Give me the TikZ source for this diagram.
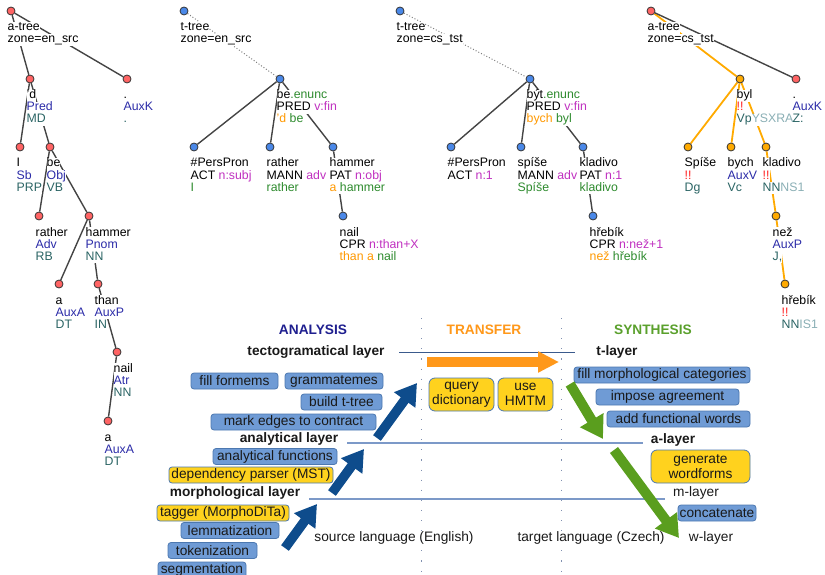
\documentclass[tikz,border=0pt]{standalone}
\usepackage{fontspec}
\setmainfont{Liberation Sans}
\usetikzlibrary{arrows.meta}
\pgfdeclarelayer{bg}
\pgfsetlayers{bg,main}
\definecolor{afun}{HTML}{2B2BA8}
\definecolor{tagc}{HTML}{2A6464}
\definecolor{tagl}{HTML}{8AAFB5}
\definecolor{tgreen}{HTML}{2E8B2E}
\definecolor{tmag}{HTML}{C030C0}
\definecolor{torange}{HTML}{FF9900}
\definecolor{bang}{HTML}{FF2020}
\definecolor{reddot}{HTML}{FF6464}
\definecolor{bluedot}{HTML}{4A88E8}
\definecolor{orgdot}{HTML}{FFAA00}
\definecolor{edgec}{HTML}{444444}
\definecolor{boxblue}{HTML}{6F9BD5}
\definecolor{boxborder}{HTML}{4C78B0}
\definecolor{boxyellow}{HTML}{FFD21E}
\definecolor{arrblue}{HTML}{0E4C8C}
\definecolor{arrorange}{HTML}{FF981A}
\definecolor{arrgreen}{HTML}{5A9E1E}
\definecolor{hdblue}{HTML}{1F1F8F}
\definecolor{hdgreen}{HTML}{5AA02C}
\definecolor{layline}{HTML}{7C99C8}
\definecolor{tline}{HTML}{3A5A8C}
\definecolor{vdotc}{HTML}{8090B0}
\newcommand\tfnt{\fontsize{12.3}{12.3}\selectfont}
\newcommand\bfnt{\fontsize{13.7}{14.5}\selectfont}
\newcommand\colA[1]{\textcolor{afun}{#1}}
\newcommand\colT[1]{\textcolor{tagc}{#1}}
\newcommand\colL[1]{\textcolor{tagl}{#1}}
\newcommand\colG[1]{\textcolor{tgreen}{#1}}
\newcommand\colM[1]{\textcolor{tmag}{#1}}
\newcommand\colO[1]{\textcolor{torange}{#1}}
\newcommand\colR[1]{\textcolor{bang}{#1}}
\newcommand\mklab[4]{%
  \node[lab] (#1-1) at ([xshift=-3.5pt,yshift=-17pt]#1.center) {#2};
  \node[lab] (#1-2) at ([xshift=-3.5pt,yshift=-29pt]#1.center) {#3};
  \node[lab] (#1-3) at ([xshift=-3.5pt,yshift=-41pt]#1.center) {#4};}
\begin{document}
\begin{tikzpicture}[x=1pt,y=-1pt,
  dot/.style={circle, inner sep=0, minimum size=8pt, draw=black!80, line width=0.8pt},
  adot/.style={dot, fill=reddot},
  tdot/.style={dot, fill=bluedot},
  odot/.style={dot, fill=orgdot},
  edge/.style={draw=edgec, line width=1.4pt},
  oedge/.style={draw=orgdot, line width=1.8pt},
  dedge/.style={draw=gray, line width=1pt, dash pattern=on 1pt off 2pt},
  lab/.style={anchor=west, inner sep=0, fill=white, font=\tfnt, text height=9pt, text depth=3pt},
  bbox/.style={rounded corners=3pt, draw=boxborder, fill=boxblue, line width=0.8pt, inner sep=0, font=\bfnt, text=black!90, minimum height=16pt},
  ybox/.style={bbox, fill=boxyellow},
  tbox/.style={ybox, rounded corners=6pt, minimum height=33pt, align=center},
  hdr/.style={font=\bfnt\bfseries, inner sep=0},
  layb/.style={font=\bfnt\bfseries, inner sep=0, text=black!90},
  layr/.style={font=\bfnt, inner sep=0, text=black!90},
  vdot/.style={draw=vdotc, line width=1.1pt, dash pattern=on 1.1pt off 9pt},
  tl/.style={draw=tline, line width=1pt},
  al/.style={draw=layline, line width=1.4pt},
  barr/.style={draw=arrblue, line width=9.5pt, -{Triangle[width=25pt,length=21pt]}},
  garr/.style={draw=arrgreen, line width=10pt, -{Triangle[width=26pt,length=22pt]}},
  oarr/.style={draw=arrorange, line width=10pt, -{Triangle[width=20pt,length=21pt]}}
]
\useasboundingbox (0,0) rectangle (825,575);

% ---------- en a-tree ----------
\node[adot] (ar) at (11,11) {};
\node[adot] (ad) at (30,79) {};
\node[adot] (aK) at (127,79) {};
\node[adot] (aI) at (20,147) {};
\node[adot] (abe) at (50,147) {};
\node[adot] (ara) at (39,216) {};
\node[adot] (aha) at (89,216) {};
\node[adot] (aa1) at (59,284) {};
\node[adot] (ath) at (98,284) {};
\node[adot] (ana) at (117,352) {};
\node[adot] (aa2) at (108,421) {};

% ---------- en t-tree ----------
\node[tdot] (tr) at (184,11) {};
\node[tdot] (tbe) at (280,79) {};
\node[tdot] (tpp) at (194,147) {};
\node[tdot] (tra) at (270,147) {};
\node[tdot] (tha) at (333,147) {};
\node[tdot] (tna) at (343,216) {};

% ---------- cs t-tree ----------
\node[tdot] (sr) at (400,11) {};
\node[tdot] (sby) at (530,79) {};
\node[tdot] (spp) at (451,147) {};
\node[tdot] (ssp) at (521,147) {};
\node[tdot] (skl) at (583,147) {};
\node[tdot] (shr) at (593,216) {};

% ---------- cs a-tree ----------
\node[adot] (cr) at (651,11) {};
\node[odot] (cby) at (740,79) {};
\node[adot] (cK) at (796,79) {};
\node[odot] (csp) at (688,147) {};
\node[odot] (cbych) at (731,147) {};
\node[odot] (ckl) at (766,147) {};
\node[odot] (cne) at (776,216) {};
\node[odot] (chr) at (785,284) {};

\begin{pgfonlayer}{bg}
\draw[edge] (ar) -- (ad);
\draw[edge] (ar) -- (aK);
\draw[edge] (ad) -- (aI);
\draw[edge] (ad) -- (abe);
\draw[edge] (abe) -- (ara);
\draw[edge] (abe) -- (aha);
\draw[edge] (aha) -- (aa1);
\draw[edge] (aha) -- (ath);
\draw[edge] (ath) -- (ana);
\draw[edge] (ana) -- (aa2);

\draw[dedge] (tr) -- (tbe);
\draw[edge] (tbe) -- (tpp);
\draw[edge] (tbe) -- (tra);
\draw[edge] (tbe) -- (tha);
\draw[edge] (tha) -- (tna);

\draw[dedge] (sr) -- (sby);
\draw[edge] (sby) -- (spp);
\draw[edge] (sby) -- (ssp);
\draw[edge] (sby) -- (skl);
\draw[edge] (skl) -- (shr);

\draw[oedge] (cr) -- (cby);
\draw[edge] (cr) -- (cK);
\draw[oedge] (cby) -- (csp);
\draw[oedge] (cby) -- (cbych);
\draw[oedge] (cby) -- (ckl);
\draw[oedge] (ckl) -- (cne);
\draw[oedge] (cne) -- (chr);

\mklab{ar}{a-tree}{zone=en\_src}{}
\mklab{ad}{'d}{\colA{Pred}}{\colT{MD}}
\mklab{aK}{.}{\colA{AuxK}}{\colT{.}}
\mklab{aI}{I}{\colA{Sb}}{\colT{PRP}}
\mklab{abe}{be}{\colA{Obj}}{\colT{VB}}
\mklab{ara}{rather}{\colA{Adv}}{\colT{RB}}
\mklab{aha}{hammer}{\colA{Pnom}}{\colT{NN}}
\mklab{aa1}{a}{\colA{AuxA}}{\colT{DT}}
\mklab{ath}{than}{\colA{AuxP}}{\colT{IN}}
\mklab{ana}{nail}{\colA{Atr}}{\colT{NN}}
\mklab{aa2}{a}{\colA{AuxA}}{\colT{DT}}

\mklab{tr}{t-tree}{zone=en\_src}{}
\mklab{tbe}{be\colG{.enunc}}{PRED \colM{v:fin}}{\colO{'d} \colG{be}}
\mklab{tpp}{\#PersPron}{ACT \colM{n:subj}}{\colG{I}}
\mklab{tra}{rather}{MANN \colM{adv}}{\colG{rather}}
\mklab{tha}{hammer}{PAT \colM{n:obj}}{\colO{a} \colG{hammer}}
\mklab{tna}{nail}{CPR \colM{n:than+X}}{\colO{than a} \colG{nail}}

\mklab{sr}{t-tree}{zone=cs\_tst}{}
\mklab{sby}{být\colG{.enunc}}{PRED \colM{v:fin}}{\colO{bych} \colG{byl}}
\mklab{spp}{\#PersPron}{ACT \colM{n:1}}{}
\mklab{ssp}{spíše}{MANN \colM{adv}}{\colG{Spíše}}
\mklab{skl}{kladivo}{PAT \colM{n:1}}{\colG{kladivo}}
\mklab{shr}{hřebík}{CPR \colM{n:než+1}}{\colO{než} \colG{hřebík}}

\mklab{cr}{a-tree}{zone=cs\_tst}{}
\mklab{cby}{byl}{\colR{!!}}{\colT{Vp}\colL{YSXRA}}
\mklab{cK}{.}{\colA{AuxK}}{\colT{Z:}}
\mklab{csp}{Spíše}{\colR{!!}}{\colT{Dg}}
\mklab{cbych}{bych}{\colA{AuxV}}{\colT{Vc}}
\mklab{ckl}{kladivo}{\colR{!!}}{\colT{NN}\colL{NS1}}
\mklab{cne}{než}{\colA{AuxP}}{\colT{J,}}
\mklab{chr}{hřebík}{\colR{!!}}{\colT{NN}\colL{IS1}}
\end{pgfonlayer}

% ---------- bottom: pipeline ----------
\coordinate (v1t) at (421.5,318); \coordinate (v1b) at (421.5,575);
\coordinate (v2t) at (561.5,318); \coordinate (v2b) at (561.5,575);
\draw[vdot] (v1t) -- (v1b);
\draw[vdot] (v2t) -- (v2b);

\node[hdr, text=hdblue] (hA) at (313,330) {ANALYSIS};
\node[hdr, text=arrorange] (hT) at (484,330) {TRANSFER};
\node[hdr, text=hdgreen] (hS) at (653,330) {SYNTHESIS};

\node[layb] (Lt) at (316,352) {tectogramatical layer};
\node[layb] (La) at (289,439) {analytical layer};
\node[layb] (Lm) at (235,493) {morphological layer};
\node[layr] (Ls) at (394,538) {source language (English)};
\node[layr] (Lg) at (591,538) {target language (Czech)};
\node[layb] (Rt) at (617,352) {t-layer};
\node[layb] (Ra) at (673,440) {a-layer};
\node[layr] (Rm) at (696,493) {m-layer};
\node[layr] (Rw) at (711,538) {w-layer};

\coordinate (tls) at (399,352); \coordinate (tle) at (575,352);
\coordinate (als) at (347,443); \coordinate (ale) at (643,443);
\coordinate (mls) at (309,499); \coordinate (mle) at (665,499);
\draw[tl] (tls) -- (tle);
\draw[al] (als) -- (ale);
\draw[al] (mls) -- (mle);

\node[bbox, minimum width=87pt] (b1) at (234.5,381) {fill formems};
\node[bbox, minimum width=98pt] (b2) at (334,381) {grammatemes};
\node[bbox, minimum width=81pt] (b3) at (341.5,402) {build t-tree};
\node[bbox, minimum width=165pt] (b4) at (293.5,422) {mark edges to contract};
\node[bbox, minimum width=124pt] (b5) at (275,456.5) {analytical functions};
\node[ybox, minimum width=164pt] (b6) at (251,475) {dependency parser (MST)};
\node[ybox, minimum width=132pt] (b7) at (223,513) {tagger (MorphoDiTa)};
\node[bbox, minimum width=98pt] (b8) at (230,530.5) {lemmatization};
\node[bbox, minimum width=89pt] (b9) at (212.5,550.5) {tokenization};
\node[bbox, minimum width=88pt] (b10) at (202,570) {segmentation};

\node[tbox, minimum width=65pt] (q1) at (461.5,394.5) {query\\dictionary};
\node[tbox, minimum width=55pt] (q2) at (525.5,394.5) {use\\HMTM};

\node[bbox, minimum width=176pt] (s1) at (662,375) {fill morphological categories};
\node[bbox, minimum width=143pt] (s2) at (667.5,397) {impose agreement};
\node[bbox, minimum width=143pt] (s3) at (678.5,419) {add functional words};
\node[tbox, minimum width=99pt] (s4) at (700.5,466.5) {generate\\wordforms};
\node[bbox, minimum width=78pt] (s5) at (717,513) {concatenate};

% arrows
\coordinate (ba1s) at (285,548); \coordinate (ba1e) at (317,504);
\coordinate (ba2s) at (332,493); \coordinate (ba2e) at (364,449);
\coordinate (ba3s) at (377,438); \coordinate (ba3e) at (417,383);
\coordinate (oas) at (427,362); \coordinate (oae) at (559,362);
\coordinate (ga1s) at (570,384); \coordinate (ga1e) at (603,439);
\coordinate (ga2s) at (614,450); \coordinate (ga2e) at (679,538);
\draw[barr] (ba1s) -- (ba1e);
\draw[barr] (ba2s) -- (ba2e);
\draw[barr] (ba3s) -- (ba3e);
\draw[oarr] (oas) -- (oae);
\draw[garr] (ga1s) -- (ga1e);
\draw[garr] (ga2s) -- (ga2e);
\end{tikzpicture}
\end{document}
